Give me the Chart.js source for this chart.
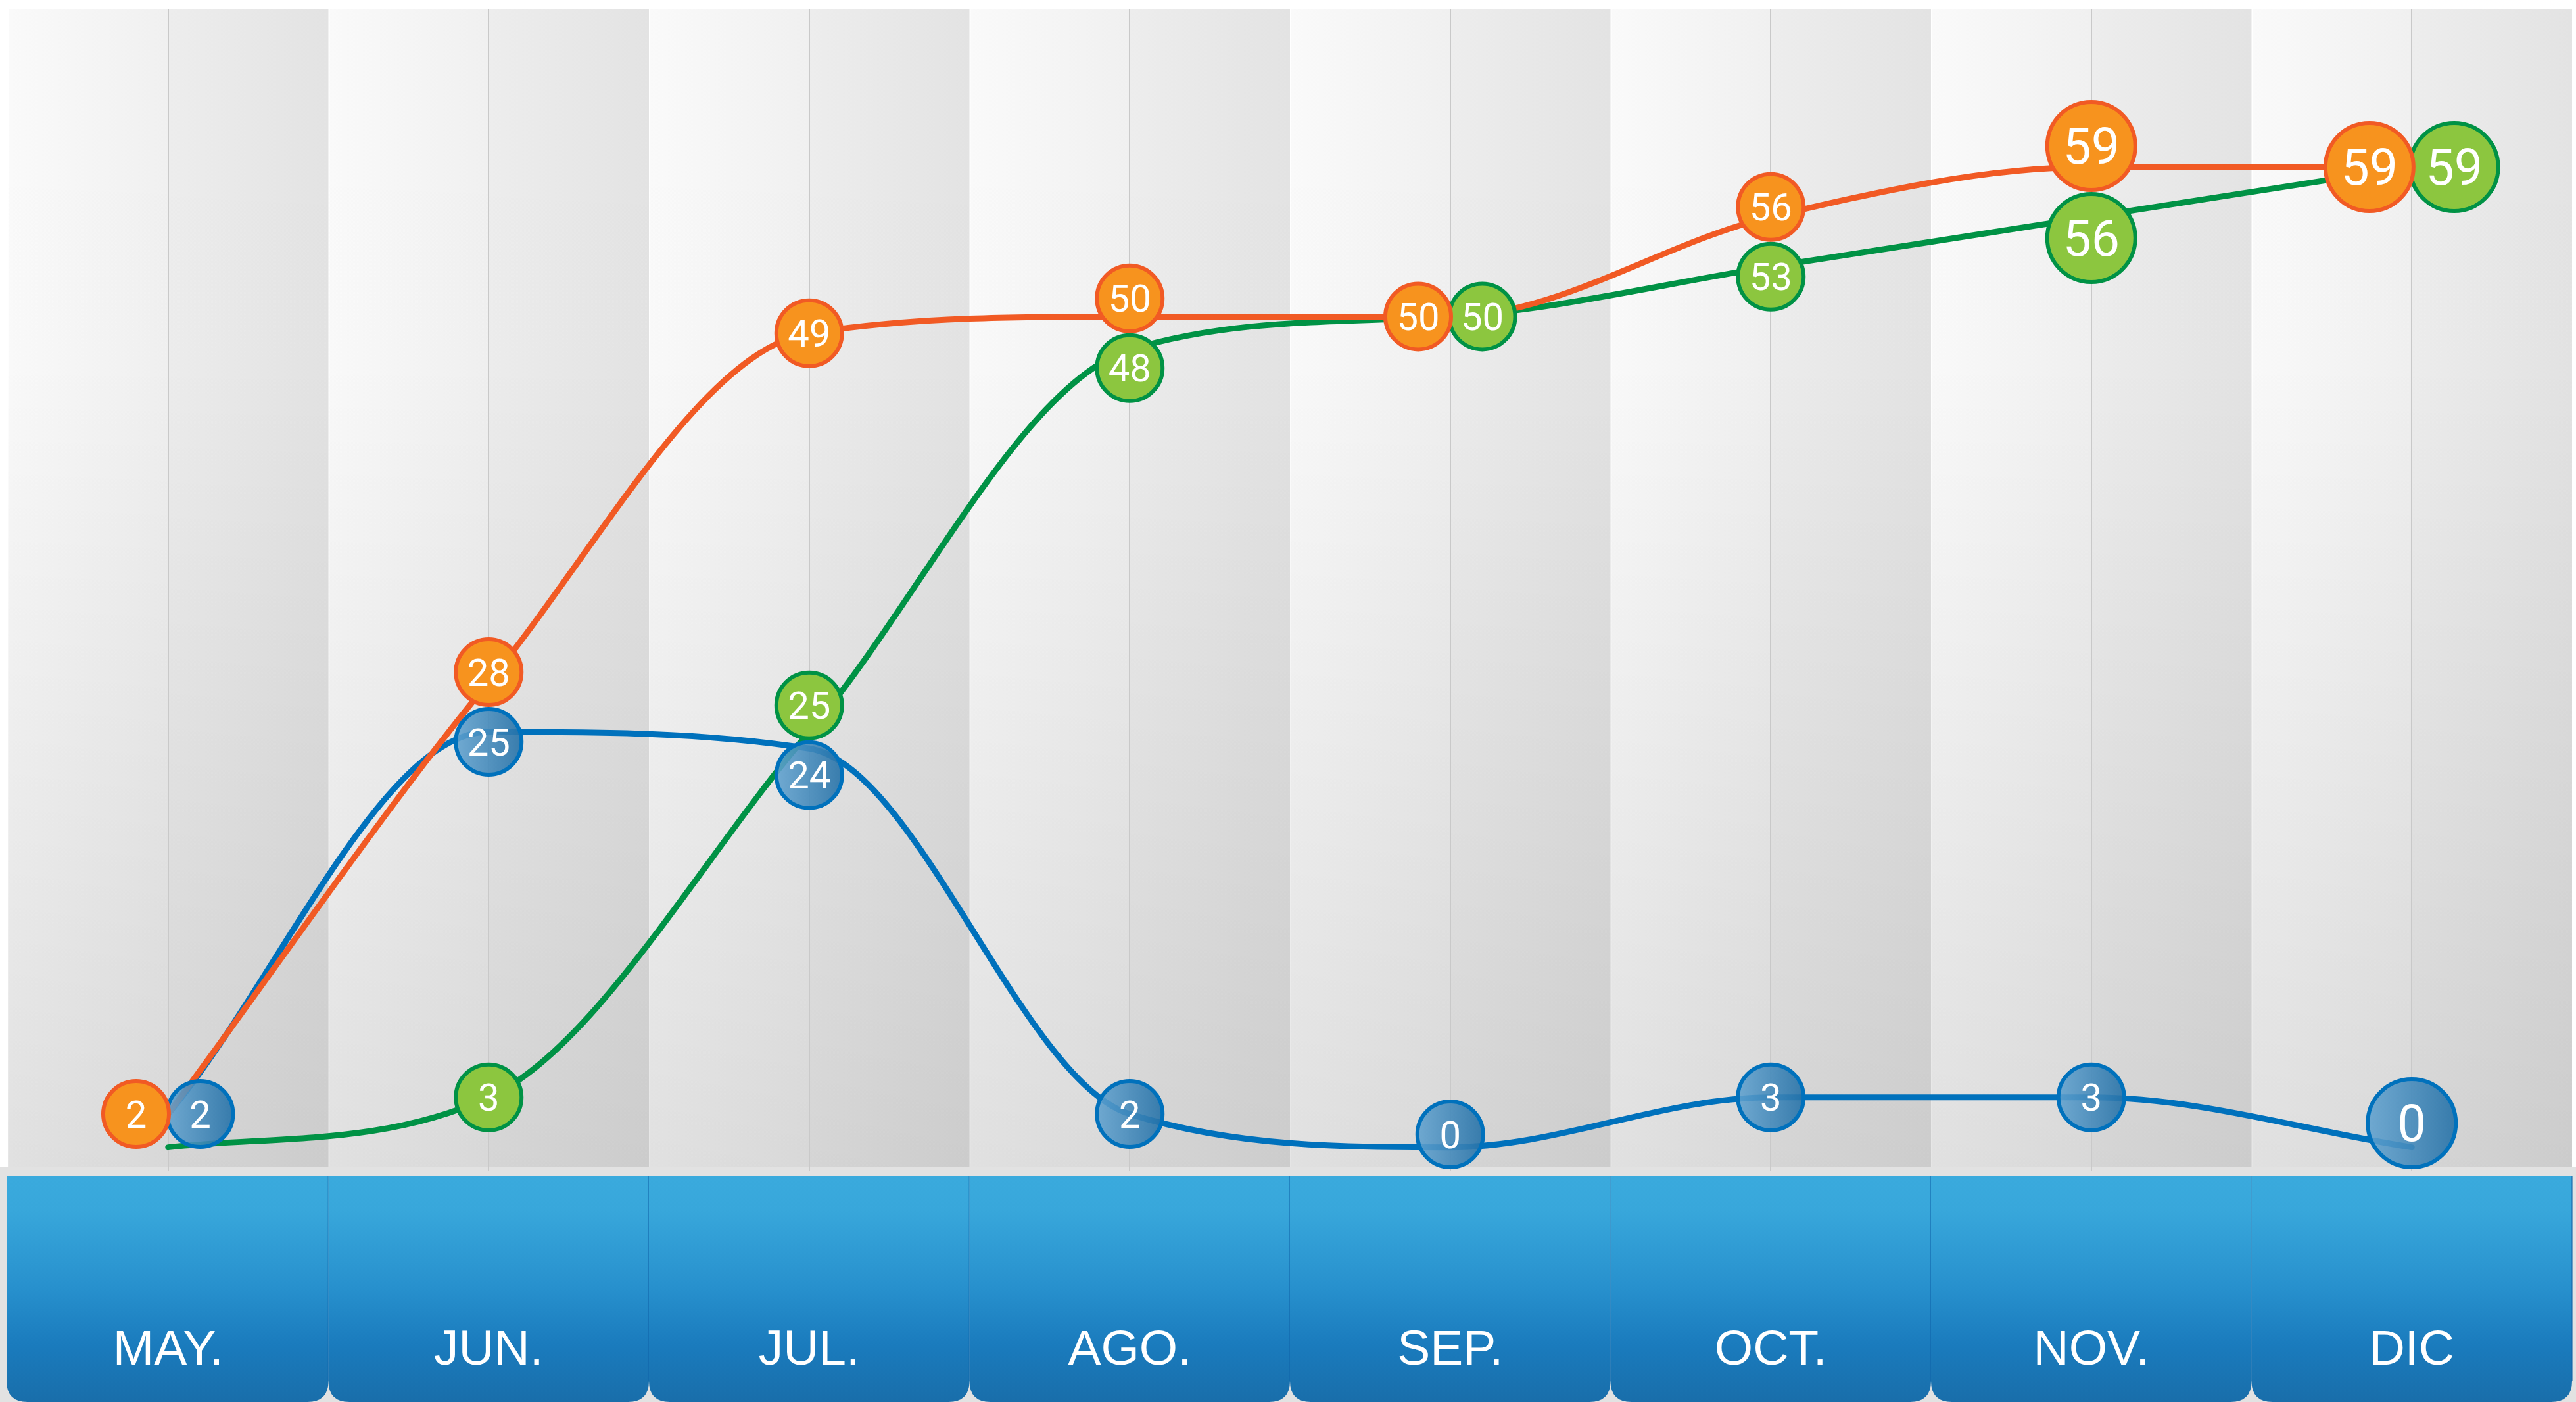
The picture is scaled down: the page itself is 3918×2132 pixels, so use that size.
<!DOCTYPE html>
<html><head><meta charset="utf-8">
<script src="https://cdn.jsdelivr.net/npm/chart.js@4.4.1/dist/chart.umd.min.js"></script>
<style>html,body{margin:0;padding:0;background:#fff;overflow:hidden}#wrap{width:3918px;height:2132px}</style>
</head><body><div id="wrap"><canvas id="c" width="3918" height="2132"></canvas></div>
<script>
// ---- data ----
const months = ['MAY.', 'JUN.', 'JUL.', 'AGO.', 'SEP.', 'OCT.', 'NOV.', 'DIC'];
const orangeValues = [2, 28, 49, 50, 50, 56, 59, 59];
const greenValues  = [0, 3, 25, 48, 50, 53, 56, 59];
const blueValues   = [2, 25, 24, 2, 0, 3, 3, 0];

// ---- styles ----
const SMALL = 53, BIG = 70;
const styles = {
  orange: { line: '#F15A24', fill: '#F7931E', stroke: '#F15A24' },
  green:  { line: '#009245', fill: '#8CC63F', stroke: '#009245' },
  blue:   { line: '#0071BC', fill: null,      stroke: '#0071BC' }
};

const bgPlugin = {
  id: 'bg',
  beforeDraw(chart) {
    const ctx = chart.ctx, a = chart.chartArea, x = chart.scales.x;
    const n = chart.data.labels.length;
    ctx.save();
    ctx.fillStyle = '#ffffff';
    ctx.fillRect(0, 0, chart.width, chart.height);
    ctx.fillStyle = '#e2e2e2';
    ctx.fillRect(0, a.bottom - 6, chart.width, chart.height - a.bottom + 6);
    const step = x.getPixelForValue(1) - x.getPixelForValue(0);
    const h = a.bottom - a.top - 6;
    for (let i = 0; i < n; i++) {
      const c = x.getPixelForValue(i), l = c - step / 2, r = c + step / 2;
      let g = ctx.createLinearGradient(l, 0, c, 0);
      g.addColorStop(0, '#fafafa'); g.addColorStop(1, '#f0f0f0');
      ctx.fillStyle = g; ctx.fillRect(l + 2, a.top, c - l - 2, h);
      g = ctx.createLinearGradient(c, 0, r, 0);
      g.addColorStop(0, '#ededed'); g.addColorStop(1, '#e3e3e3');
      ctx.fillStyle = g; ctx.fillRect(c, a.top, r - c, h);
    }
    const v = ctx.createLinearGradient(0, a.top, 0, a.bottom);
    v.addColorStop(0, 'rgba(0,0,0,0)');
    v.addColorStop(0.3, 'rgba(0,0,0,0.005)');
    v.addColorStop(1, 'rgba(0,0,0,0.1)');
    ctx.fillStyle = v; ctx.fillRect(a.left, a.top, a.right - a.left, h);

    // bottom blue tabs
    const top = a.bottom + 8, bot = chart.height, rad = 32;
    for (let i = 0; i < n; i++) {
      const c = x.getPixelForValue(i), l = c - step / 2 - (i === 0 ? 2 : 0), r = c + step / 2;
      const g = ctx.createLinearGradient(0, top, 0, bot);
      g.addColorStop(0, '#3aaadd');
      g.addColorStop(0.15, '#38a7db');
      g.addColorStop(0.5, '#2790cd');
      g.addColorStop(0.75, '#1a7bbd');
      g.addColorStop(1, '#196eaa');
      ctx.beginPath();
      ctx.moveTo(l, top);
      ctx.lineTo(r, top);
      ctx.lineTo(r, bot - rad);
      ctx.quadraticCurveTo(r, bot, r - rad, bot);
      ctx.lineTo(l + rad, bot);
      ctx.quadraticCurveTo(l, bot, l, bot - rad);
      ctx.closePath();
      ctx.fillStyle = g; ctx.fill();
      ctx.strokeStyle = 'rgba(16,100,170,0.55)'; ctx.lineWidth = 2;
      ctx.beginPath(); ctx.moveTo(r, top); ctx.lineTo(r, bot - rad); ctx.stroke();
    }
    ctx.restore();
  }
};

const markerPlugin = {
  id: 'markers',
  afterDatasetsDraw(chart) {
    const ctx = chart.ctx, a = chart.chartArea;
    const n = chart.data.labels.length;
    const all = [];
    for (let i = 0; i < n; i++) {
      const group = [];
      chart.data.datasets.forEach((ds, d) => {
        if (ds.markerHidden && ds.markerHidden[i]) return;
        const el = chart.getDatasetMeta(d).data[i];
        group.push({ d, v: ds.data[i], x: el.x, y: el.y, r: ds.markerRadius[i], st: ds.markerStyle });
      });
      for (let p = 0; p < group.length; p++) for (let q = p + 1; q < group.length; q++) {
        const A = group[p], B = group[q];
        const dx = B.x - A.x, dy = B.y - A.y;
        if (A.v === B.v) {
          const need = 0.92 * (A.r + B.r);
          if (Math.hypot(dx, dy) >= need) continue;
          const sep = Math.sqrt(Math.max(0, need * need - dy * dy));
          const mid = (A.x + B.x) / 2;
          A.x = mid - sep / 2; B.x = mid + sep / 2;
        } else {
          const need = 1.0 * (A.r + B.r);
          if (Math.hypot(dx, dy) >= need) continue;
          const hi = A.v > B.v ? A : B, lo = hi === A ? B : A;
          const mid = (hi.y + lo.y) / 2;
          const sep = Math.sqrt(Math.max(0, need * need - dx * dx));
          hi.y = mid - sep / 2; lo.y = mid + sep / 2;
        }
      }
      group.forEach(g => {
        g.y = Math.min(g.y, a.bottom - g.r - 2);
        g.y = Math.max(g.y, a.top + g.r + 2);
        all.push(g);
      });
    }
    all.sort((p, q) => q.d - p.d);
    ctx.save();
    all.forEach(g => {
      ctx.beginPath();
      ctx.arc(g.x, g.y, g.r - 3, 0, Math.PI * 2);
      if (g.st.fill) {
        ctx.fillStyle = g.st.fill;
      } else {
        const gr = ctx.createLinearGradient(g.x - g.r, 0, g.x + g.r, 0);
        gr.addColorStop(0, 'rgba(98,163,208,0.88)');
        gr.addColorStop(1, 'rgba(36,112,166,0.9)');
        ctx.fillStyle = gr;
      }
      ctx.fill();
      ctx.lineWidth = 6;
      ctx.strokeStyle = g.st.stroke;
      ctx.stroke();
      const fs = Math.round(g.r * 1.1);
      ctx.font = fs + 'px Roboto, "Liberation Sans", sans-serif';
      ctx.fillStyle = '#ffffff';
      ctx.textAlign = 'center';
      ctx.textBaseline = 'alphabetic';
      ctx.fillText(String(g.v), g.x, g.y + fs * 0.355);
    });
    ctx.restore();
  }
};

function radii(bigFrom, exceptions) {
  return months.map((m, i) => (i >= bigFrom && !(exceptions || []).includes(i)) ? BIG : SMALL);
}

const lineOpts = { borderWidth: 9, cubicInterpolationMode: 'monotone', pointRadius: 0, fill: false, borderCapStyle: 'round' };

new Chart(document.getElementById('c'), {
  type: 'line',
  data: {
    labels: months,
    datasets: [
      Object.assign({ label: 'Naranja', data: orangeValues, borderColor: styles.orange.line, markerStyle: styles.orange,
        markerRadius: radii(6) }, lineOpts),
      Object.assign({ label: 'Verde', data: greenValues, borderColor: styles.green.line, markerStyle: styles.green,
        markerRadius: radii(6), markerHidden: months.map((m, i) => i === 0) }, lineOpts),
      Object.assign({ label: 'Azul', data: blueValues, borderColor: styles.blue.line, markerStyle: styles.blue,
        markerRadius: radii(6, [6]) }, lineOpts)
    ]
  },
  options: {
    responsive: false,
    devicePixelRatio: 1,
    animation: false,
    events: [],
    layout: { padding: { top: 14, left: 12, right: 6, bottom: 0 } },
    plugins: { legend: { display: false }, tooltip: { enabled: false } },
    scales: {
      x: {
        offset: true,
        grid: { display: true, offset: false, color: '#c9c9c9', lineWidth: 2,
                drawTicks: true, tickLength: 229, tickColor: 'rgba(0,0,0,0)' },
        border: { display: false },
        ticks: { color: '#ffffff', font: { family: '"Liberation Sans", Arial, sans-serif', size: 75 },
                 padding: 0, maxRotation: 0, autoSkip: false },
        afterFit(s) { s.height = 352; }
      },
      y: { display: false, min: -1.4, max: 68.5 }
    }
  },
  plugins: [bgPlugin, markerPlugin]
});
</script>
</body></html>
